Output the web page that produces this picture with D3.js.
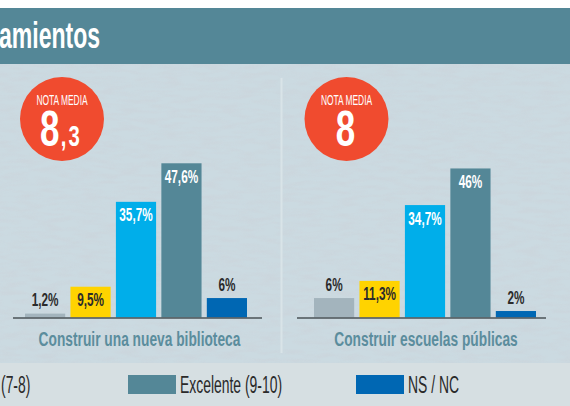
<!DOCTYPE html>
<html>
<head>
<meta charset="utf-8">
<script src="https://cdn.jsdelivr.net/npm/d3@7"></script>
<style>
  body { margin: 0; background: #fff; }
  svg { display: block; }
  text { font-family: "Liberation Sans", Arial, sans-serif; }
</style>
</head>
<body>
<div id="chart"></div>
<script>
// values
const title = "amientos";
const categories = ["Construir una nueva biblioteca", "Construir escuelas públicas"];
const biblioteca = [1.2, 9.5, 35.7, 47.6, 6];
const escuelas = [6, 11.3, 34.7, 46, 2];
const notaMedia = [["8", ",3"], ["8", ""]];
const legendLabels = ["(7-8)", "Excelente (9-10)", "NS / NC"];
const legendSeries = [2, 3, 4];

const colors = ["#a3b4bd", "#ffd300", "#00aeea", "#548797", "#0067b3"];
const labelInk = ["#2b2b2b", "#2b2b2b", "#ffffff", "#ffffff", "#2b2b2b"];

const width = 570, height = 406;
const panels = [
  { barStart: 25, axis: [13, 262], circleX: 62, labelX: 139.5 },
  { barStart: 314, axis: [297, 546], circleX: 346.5, labelX: 426 }
];
const legendSwatchX = [-51, 128, 356];

const svg = d3.select("#chart").append("svg")
  .attr("width", width)
  .attr("height", height);

// background texture
const defs = svg.append("defs");
const f = defs.append("filter").attr("id", "grain")
  .attr("x", 0).attr("y", 0).attr("width", "100%").attr("height", "100%");
f.append("feTurbulence")
  .attr("type", "fractalNoise")
  .attr("baseFrequency", "0.05 0.22")
  .attr("numOctaves", 2)
  .attr("seed", 7);
f.append("feColorMatrix")
  .attr("type", "matrix")
  .attr("values", "0 0 0 0 0.60  0 0 0 0 0.67  0 0 0 0 0.72  2.4 0 0 0 -0.9");

svg.append("rect").attr("x", 0).attr("y", 64).attr("width", width).attr("height", 299)
  .attr("fill", "#cbdae1");
svg.append("rect").attr("x", 0).attr("y", 64).attr("width", width).attr("height", 299)
  .attr("filter", "url(#grain)").attr("opacity", 0.9);

// title band
svg.append("rect").attr("x", 0).attr("y", 8).attr("width", width).attr("height", 56)
  .attr("fill", "#548797");

function txt(g, x, y, str, o) {
  return g.append("text")
    .attr("transform", `translate(${x},${y}) scale(${o.scale || 0.64},1)`)
    .attr("text-anchor", o.anchor || "middle")
    .attr("font-size", o.size)
    .attr("font-weight", o.weight || "normal")
    .attr("fill", o.fill)
    .text(str);
}

txt(svg, -1, 48, title, { size: 36, weight: "bold", fill: "#fff", anchor: "start" });

// panel separator
svg.append("line").attr("x1", 281.5).attr("x2", 281.5).attr("y1", 78).attr("y2", 353)
  .attr("stroke", "#d9e4e8").attr("stroke-width", 2);

// legend band
svg.append("rect").attr("x", 0).attr("y", 363).attr("width", width).attr("height", height - 363)
  .attr("fill", "#d6dfe2");

const y = d3.scaleLinear().domain([0, 50]).range([317.5, 155.5]);
const x = d3.scaleBand().domain(d3.range(5)).range([0, 222]).paddingInner(0.116);

[biblioteca, escuelas].forEach((vals, p) => {
  const L = panels[p];
  const g = svg.append("g");

  // average grade badge
  g.append("circle").attr("cx", L.circleX).attr("cy", 119).attr("r", 42)
    .attr("fill", "#f04b2f");
  txt(g, L.circleX, 105, "NOTA MEDIA", { size: 14.5, fill: "#fff", scale: 0.58 });
  const big = g.append("text")
    .attr("transform", `translate(${L.circleX - 1},146) scale(0.7,1)`)
    .attr("text-anchor", "middle")
    .attr("font-weight", "bold")
    .attr("fill", "#fff");
  big.append("tspan").attr("font-size", 50).text(notaMedia[p][0]);
  big.append("tspan").attr("font-size", 29).attr("dx", 2)
    .attr("letter-spacing", 3).text(notaMedia[p][1]);

  const bars = g.append("g").attr("transform", `translate(${L.barStart},0)`);
  bars.selectAll("rect").data(vals).join("rect")
    .attr("x", (d, i) => x(i))
    .attr("width", x.bandwidth())
    .attr("y", d => y(d))
    .attr("height", d => y(0) - y(d))
    .attr("fill", (d, i) => colors[i]);

  vals.forEach((d, i) => {
    const inside = d >= 9;
    txt(bars, x(i) + x.bandwidth() / 2, inside ? y(d) + 19.5 : y(d) - 7.5,
      String(d).replace(".", ",") + "%",
      { size: 19, weight: "bold", fill: inside ? labelInk[i] : "#2b2b2b", scale: 0.62 });
  });

  g.append("line")
    .attr("x1", L.axis[0]).attr("x2", L.axis[1])
    .attr("y1", 318).attr("y2", 318)
    .attr("stroke", "#4a5256").attr("stroke-width", 1.5);

  txt(g, L.labelX, 346, categories[p], { size: 21, weight: "bold", fill: "#5b8d9d", scale: 0.655 });
});

// legend
legendSeries.forEach((s, i) => {
  svg.append("rect")
    .attr("x", legendSwatchX[i]).attr("y", 375)
    .attr("width", 48).attr("height", 19)
    .attr("fill", colors[s]);
  txt(svg, legendSwatchX[i] + 52, 392.5, legendLabels[i],
    { size: 24, fill: "#2a2a2a", anchor: "start", scale: 0.58 });
});
</script>
</body>
</html>
